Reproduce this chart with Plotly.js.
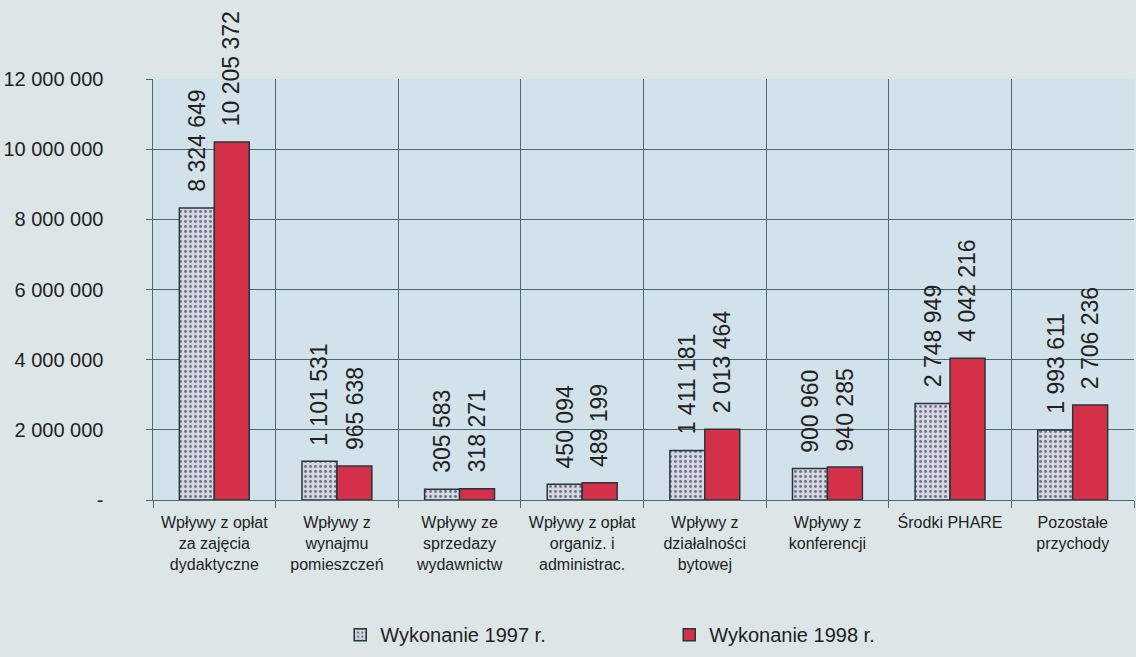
<!DOCTYPE html>
<html>
<head>
<meta charset="utf-8">
<script src="https://cdn.plot.ly/plotly-3.0.1.min.js"></script>
<style>html,body{margin:0;padding:0;background:#dde6e7;}</style>
</head>
<body>
<div id="chart" style="width:1136px;height:657px;"></div>
<script>
const categories = [
  "Wpływy z opłat<br>za zajęcia<br>dydaktyczne",
  "Wpływy z<br>wynajmu<br>pomieszczeń",
  "Wpływy ze<br>sprzedazy<br>wydawnictw",
  "Wpływy z opłat<br>organiz. i<br>administrac.",
  "Wpływy z<br>działalności<br>bytowej",
  "Wpływy z<br>konferencji",
  "Środki PHARE",
  "Pozostałe<br>przychody"
];
const values1997 = [8324649, 1101531, 305583, 450094, 1411181, 900960, 2748949, 1993611];
const values1998 = [10205372, 965638, 318271, 489199, 2013464, 940285, 4042216, 2706236];
const seriesNames = ["Wykonanie 1997 r.", "Wykonanie 1998 r."];
const yTickVals = [0, 2000000, 4000000, 6000000, 8000000, 10000000, 12000000];
const yTickText = ["-", "2 000 000", "4 000 000", "6 000 000", "8 000 000", "10 000 000", "12 000 000"];

function fmt(v) {
  return String(v).replace(/\B(?=(\d{3})+(?!\d))/g, " ");
}

const bargap = 0.43;
const half = (1 - bargap) / 4;
const outline = {color: "#27363a", width: 1.5};

const traces = [
  {
    type: "bar", name: seriesNames[0], x: categories, y: values1997,
    marker: {color: "#cfd2dd", line: outline,
      pattern: {shape: ".", fgcolor: "#6e7086", bgcolor: "#d4d6e0", size: 5, solidity: 0.25}},
    hoverinfo: "none"
  },
  {
    type: "bar", name: seriesNames[1], x: categories, y: values1998,
    marker: {color: "#d5304a", line: outline},
    hoverinfo: "none"
  }
];

const annotations = [];
[values1997, values1998].forEach((vals, s) => {
  vals.forEach((v, i) => {
    annotations.push({
      x: i + (s === 0 ? -half : half), y: v, xref: "x", yref: "y",
      text: fmt(v), showarrow: false, textangle: -90,
      xanchor: "center", yanchor: "bottom", yshift: 14,
      font: {family: "Liberation Sans, Arial, sans-serif", size: 23, color: "#222"}
    });
  });
});

const gridc = "#4f6a6e";
const layout = {
  width: 1136, height: 657,
  paper_bgcolor: "#dde6e7", plot_bgcolor: "#d2e2ea",
  margin: {l: 153, r: 2, t: 79, b: 157},
  barmode: "group", bargap: bargap, bargroupgap: 0,
  showlegend: true,
  font: {family: "Liberation Sans, Arial, sans-serif", color: "#222"},
  legend: {orientation: "h", xref: "container", yref: "container",
    x: 0.2995, xanchor: "left", y: 0.034, yanchor: "middle",
    entrywidth: 284, font: {size: 20, color: "#222"}, bgcolor: "rgba(0,0,0,0)",
    itemclick: false},
  xaxis: {
    type: "category", tickson: "boundaries", ticks: "outside", ticklen: 7,
    tickcolor: gridc, showgrid: true, gridcolor: gridc, gridwidth: 1,
    showline: true, linecolor: gridc, linewidth: 1,
    tickfont: {size: 16, color: "#222"}, range: [-0.5, 7.5],
    tickangle: 0, ticklabelstandoff: 8
  },
  yaxis: {
    range: [0, 12000000], tickvals: yTickVals, ticktext: yTickText,
    ticks: "outside", ticklen: 6, tickcolor: gridc,
    showgrid: true, gridcolor: gridc, gridwidth: 1, zeroline: false,
    showline: true, linecolor: gridc, linewidth: 1.5,
    tickfont: {size: 20, color: "#222"}, ticklabelstandoff: 38
  },
  annotations: annotations
};

Plotly.newPlot("chart", traces, layout, {displayModeBar: false, staticPlot: true});
</script>
</body>
</html>
